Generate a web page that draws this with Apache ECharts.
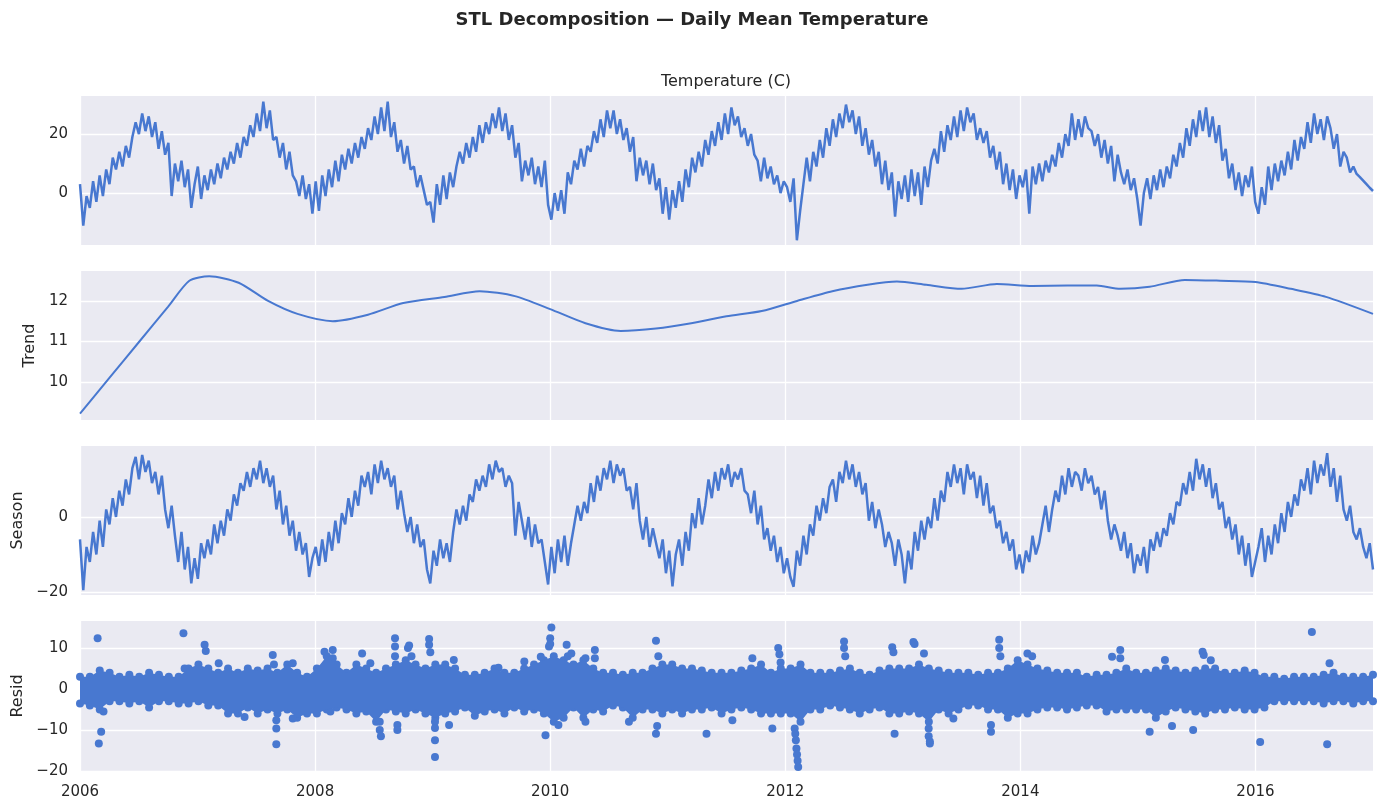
<!DOCTYPE html>
<html>
<head>
<meta charset="utf-8">
<script src="https://cdn.jsdelivr.net/npm/echarts@6/dist/echarts.min.js"></script>
<style>
  html, body { margin: 0; padding: 0; background: #fff; }
  #chart { width: 1384px; height: 810px; }
</style>
</head>
<body>
<div id="chart"></div>
<script>
// daily mean temperature, read roughly 3 samples per month (Jan..Dec)
const temp2006 = [3,-11,-1, -5,4,-3, 6,-1,8, 3,12,8, 14,9,16, 12,19,24, 20,27,21, 26,19,24, 15,21,13, 17,-1,10, 4,11,2, 8,-5,3];
const temp2007 = [9,-2,6, 1,8,3, 10,5,12, 8,14,10, 17,12,19, 16,23,19, 27,21,31, 22,28,18, 19,12,17, 8,14,6, 4,-1,6, -2,3,-7];
const temp2008 = [4,-6,6, -1,8,2, 11,4,13, 8,15,10, 17,12,19, 15,22,18, 26,20,29, 21,31,19, 24,14,18, 10,16,8, 9,2,6, 1,-4,-3];
const temp2009 = [-10,3,-4, 6,-2,7, 2,9,14, 10,17,12, 19,14,23, 17,24,20, 27,22,29, 21,27,18, 23,12,17, 4,11,6, 12,3,9, 2,11,-4];
const temp2010 = [-9,0,-6, 1,-7,7, 3,11,8, 15,9,16, 14,21,17, 25,19,28, 22,28,20, 25,18,22, 14,19,4, 12,6,11, 3,10,1, 5,-7,2];
const temp2011 = [-9,1,-5, 4,-3,8, 2,12,7, 14,9,18, 13,21,16, 24,18,27, 20,29,23, 26,19,22, 16,20,13, 11,4,12, 5,9,3, 6,0,4];
const temp2012 = [2,-3,5, -16,-6,3, 12,4,14, 9,18,12, 22,16,25, 19,27,22, 30,24,28, 20,26,16, 22,13,18, 9,14,3, 11,1,7, -8,4,-2];
const temp2013 = [6,-3,8, -1,7,-4, 9,2,11, 15,10,21, 14,23,18, 26,19,28, 21,29,24, 27,18,22, 17,21,12, 16,8,14, 3,10,1, 8,-2,6];
const temp2014 = [2,8,-7, 9,3,10, 4,11,7, 13,9,17, 12,20,16, 27,18,25, 19,26,22, 21,16,20, 12,18,10, 16,4,13, 7,3,8, 1,5,-2];
const temp2015 = [-11,0,5, -2,6,1, 8,2,9, 5,13,9, 17,12,22, 16,25,19, 28,21,29, 19,26,17, 23,11,15, 5,10,1, 7,-1,6, 2,9,-3];
const temp2016 = [-7,2,-4, 9,1,10, 4,11,6, 14,8,18, 11,19,15, 24,17,27, 20,25,18, 26,22,15, 20,9,14, 12,7,9, 6.5,5.4,4.2, 3.0,1.8,0.7];

// seasonal component, same sampling
const seas2006 = [-6,-19.5,-8, -12,-4,-10, -1,-8,2, -2,5,0, 7,3,10, 6,13,16, 10,16.5,12, 15,9,12, 6,11,2, -3,3,-5, -12,-4,-14, -8,-17.7,-11];
const seas2007 = [-16.5,-7,-11, -6,-10,-2, -7,-1,-5, 2,-1,6, 3,9,7, 12,8,13, 10,15,9, 13,8,11, 2,7,-2, 3,-5,-1, -9,-4,-10, -7,-16,-11];
const seas2008 = [-8,-13,-6, -12,-4,-9, -1,-7,1, -2,5,0, 7,3,11, 8,12,6, 14,9,15, 10,13,8, 11,2,7, 1,-4,0, -7,-2,-8, -6,-14,-17.7];
const seas2009 = [-9,-13,-6, -11,-7,-12, -4,2,-2, 3,-1,6, 4,10,7, 11,8,14, 10,15,12, 13,8,11, 9,-5,4, -1,-6,0, -8,-2,-7, -6,-12,-18];
const seas2010 = [-8,-15,-6, -12,-5,-13, -7,-2,3, -1,4,1, 9,4,11, 7,13,10, 15,9,14, 11,13,7, 8,2,9, -1,-6,0, -8,-3,-7, -11,-6,-15];
const seas2011 = [-9,-18.5,-10, -6,-13,-4, -9,1,-3, 5,-2,3, 10,5,12, 7,13,10, 14,8,12, 10,13,7, 6,1,7, -2,3,-6, -3,-9,-5, -12,-8,-15];
const seas2012 = [-11,-16,-18.6, -9,-13,-5, -10,-2,-5, 3,-1,5, 1,8,10, 4,12,9, 15,10,14, 8,12,6, 9,-1,4, -3,2,-2, -8,-4,-7, -13,-6,-10];
const seas2013 = [-17.7,-9,-14, -4,-9,-1, -6,0,-3, 5,-1,7, 4,12,8, 14,9,13, 6,14,10, 12,5,11, 3,9,1, 3,-3,-1, -7,-4,-9, -6,-14,-10];
const seas2014 = [-15,-9,-12, -5,-10,-7, -2,3,-4, 2,7,4, 11,6,13, 8,12,11, 7,13,9, 11,6,8, 2,7,-1, -6,-2,-5, -9,-4,-11, -7,-15,-10];
const seas2015 = [-13,-8,-15, -6,-9,-4, -8,-3,-5, 1,-2,4, 3,9,6, 12,7,15.5, 10,14,8, 13,5,9, 2,4,-3, 0,-6,-2, -10,-5,-13, -7,-16,-12];
const seas2016 = [-8,-3,-12, -5,-10,-2, -7,1,-4, 4,0,6, 3,10,7, 13,6,15, 9,14,11, 17,8,13, 4,11,2, -1,3,-4, -6,-3,-8, -11,-7,-14];

// trend component (smooth)
const trendT = [2006.0, 2006.25, 2006.5, 2006.75, 2006.93, 2007.1, 2007.35, 2007.6, 2007.85, 2008.15, 2008.45, 2008.75, 2009.1, 2009.4, 2009.7,
  2010.0, 2010.3, 2010.6, 2010.9, 2011.2, 2011.5, 2011.8, 2012.1, 2012.4, 2012.7, 2012.95, 2013.2, 2013.5, 2013.8,
  2014.1, 2014.4, 2014.65, 2014.85, 2015.1, 2015.4, 2015.7, 2016.0, 2016.3, 2016.6, 2017.0];
const trendV = [9.22, 10.1, 10.98, 11.86, 12.5, 12.61, 12.45, 12.0, 11.68, 11.5, 11.66, 11.95, 12.1, 12.24, 12.12,
  11.8, 11.45, 11.26, 11.32, 11.45, 11.62, 11.75, 12.0, 12.24, 12.4, 12.48, 12.4, 12.3, 12.42,
  12.37, 12.38, 12.38, 12.3, 12.35, 12.52, 12.5, 12.47, 12.3, 12.1, 11.68];

// residuals: monthly upper / lower edge of the dense band
const residHi = [3,3,4.5,4,3,3.5,3,4,3.5,3,3,5,
  6,5,4,5,4,5,4.5,5,4,6,4,3,
  5,8,6,4,6,5,4,5,6,7,6,5,
  6,6,5,3.5,3.5,4,5,4,4,5,6,7,
  8,7,6,7,5,4,4,3.5,4,4,5,6,
  6,5,5,4.5,4,4,4,4.5,5,6,4,5,
  5,6,4,4,4,4.5,5,4,3.5,4.5,5,5,
  5,6,5,4.5,4,4,4,3.5,4,4,5,7,
  6,5,4.5,4,4,4,3,3.5,3.5,4,5,4,
  4,4.5,5,4.5,4,4.5,5,5,4,4,4.5,4,
  3,3,2.5,3,3,3,3.5,4,3,3,3,3.5];
const residLo = [-3.5,-4,-5,-3,-3,-3.5,-3,-4.5,-3,-3,-3.5,-3.5,
  -3,-4,-4,-6,-6,-4.5,-6,-5,-6,-5,-7,-6,
  -6,-5,-4.5,-5,-6,-5.5,-8,-5,-5.5,-6,-5,-6,
  -7,-6,-5.5,-4.5,-6.5,-5.5,-5,-6,-4.5,-5.5,-5,-6,
  -8,-7,-4.5,-7,-5,-5.5,-4,-4.5,-7,-5,-5,-6,
  -5,-6,-5,-5,-4.5,-6,-5,-4.5,-5,-6,-6,-6,
  -6,-8,-5,-5,-4,-4.5,-5,-6,-5,-4.5,-6,-6,
  -5.5,-6,-8,-5,-6,-5,-4,-4,-5,-5,-7,-6,
  -6,-5,-4.5,-4.5,-5,-4.5,-4,-4,-5.5,-5,-5,-5,
  -5,-7,-5.5,-4.5,-5,-5.5,-6,-5,-5,-4.5,-5,-5,
  -4.5,-3,-3,-3,-3,-3,-3.5,-3,-3,-3.5,-3,-3];

// residual outliers (date as decimal year, value)
const outT = [2006.15, 2006.16, 2006.18, 2006.2, 2006.88, 2006.89, 2007.06, 2007.07, 2007.18, 2007.4, 2007.64, 2007.65, 2007.67, 2007.67, 2007.67,
  2007.81, 2007.81, 2008.08, 2008.13, 2008.15, 2008.15, 2008.4, 2008.47, 2008.55, 2008.55, 2008.56, 2008.68, 2008.68, 2008.68, 2008.7, 2008.7,
  2008.79, 2008.8, 2008.82, 2008.97, 2008.97, 2008.98, 2009.02, 2009.02, 2009.02, 2009.02, 2009.14, 2009.18, 2009.56, 2009.78, 2009.92, 2009.96,
  2009.99, 2010.0, 2010.0, 2010.01, 2010.07, 2010.14, 2010.15, 2010.18, 2010.3, 2010.3, 2010.38, 2010.38, 2010.67, 2010.9, 2010.92, 2010.9, 2010.91,
  2011.33, 2011.55, 2011.72, 2011.89, 2011.94, 2011.95, 2011.96, 2012.08, 2012.085, 2012.09, 2012.095, 2012.1, 2012.105, 2012.11,
  2012.5, 2012.5, 2012.51, 2012.91, 2012.92, 2012.93, 2013.09, 2013.1, 2013.18, 2013.22, 2013.22, 2013.23, 2013.23, 2013.43, 2013.75, 2013.75,
  2013.82, 2013.82, 2013.83, 2014.06, 2014.1, 2014.78, 2014.85, 2014.85, 2015.1, 2015.23, 2015.29, 2015.47, 2015.55, 2015.56, 2015.62,
  2016.04, 2016.48, 2016.61, 2016.63];
const outV = [12.4, -13.3, -10.4, -5.5, 13.6, 5, 10.8, 9.3, 6.3, -6.8, 8.3, 6, -7.6, -9.6, -13.5,
  -7.2, 6.3, 9.1, -5.5, 9.5, 7.5, 8.7, 6.3, -8, -10, -11.5, 12.4, 10.4, 8, -8.8, -10,
  10, 10.6, 8, 12.2, 10.8, 9, -8, -9.5, -12.5, -16.6, -8.8, 7.1, 5.2, 6.7, 7.9, -11.3,
  10.4, 12.4, 11, 15, -8.8, 10.8, 8, 8.7, 7.5, -8, 9.5, 7.5, -8, 11.8, 8, -10.9, -9,
  -10.9, -7.6, 7.5, -9.6, 10, 8.5, 6.5, -9.6, -10.9, -12.5, -14.5, -16, -17.5, -19,
  11.6, 10, 8, 10.2, 9, -10.9, 11.5, 11, 8.7, -9.6, -11.5, -12.8, -13.3, -7.2, -8.8, -10.4,
  12, 10, 8, 8.7, 8, 7.9, 9.5, 7.5, -10.4, 7.1, -9, -10, 9.1, 8.3, 7,
  -12.9, 13.9, -13.5, 6.3];

const xTicks = [2006, 2008, 2010, 2012, 2014, 2016];
const tempTicks = [0, 20];
const trendTicks = [10, 11, 12];
const seasTicks = [-20, 0];
const residTicks = [-20, -10, 0, 10];

const BLUE = '#4878d0';
const INK = '#262626';
const FONT = 'DejaVu Sans';

const tempVals = [].concat(temp2006, temp2007, temp2008, temp2009, temp2010, temp2011, temp2012, temp2013, temp2014, temp2015, temp2016);
const seasVals = [].concat(seas2006, seas2007, seas2008, seas2009, seas2010, seas2011, seas2012, seas2013, seas2014, seas2015, seas2016);
const sampleT = (i, n) => 2006 + (i * 11) / (n - 1);
const tempData = tempVals.map((v, i) => [sampleT(i, tempVals.length), v]);
const seasData = seasVals.map((v, i) => [sampleT(i, seasVals.length), v]);
const trendData = trendT.map((t, i) => [t, trendV[i]]);
const monthT = residHi.map((_, i) => sampleT(i, residHi.length));
const bandHi = residHi.map((v, i) => [monthT[i], v]);
const bandLo = residLo.map((v, i) => [monthT[i], v]);
const edgeDots = bandHi.concat(bandLo);
const outDots = outT.map((t, i) => [t, outV[i]]);

const minus = (v) => (v < 0 ? '\u2212' + Math.abs(v) : String(v));

const chart = echarts.init(document.getElementById('chart'), null, { renderer: 'canvas' });

const panels = [
  { top: 96, height: 149, min: -17.6, max: 32.9, ticks: tempTicks, name: '', gap: 0 },
  { top: 271, height: 149, min: 9.06, max: 12.74, ticks: trendTicks, name: 'Trend', gap: 40 },
  { top: 446, height: 149, min: -20.8, max: 18.9, ticks: seasTicks, name: 'Season', gap: 51 },
  { top: 621, height: 150, min: -20, max: 16.6, ticks: residTicks, name: 'Resid', gap: 51 }
];

// band series: area from 0 up to the upper edge and from 0 down to the lower edge
const bandSeries = (data) => ({
  type: 'line', xAxisIndex: 3, yAxisIndex: 3, data: data,
  showSymbol: false, lineStyle: { opacity: 0 }, itemStyle: { color: BLUE },
  areaStyle: { color: BLUE, opacity: 1, origin: 0 }
});

const option = {
  animation: false,
  backgroundColor: '#ffffff',
  textStyle: { fontFamily: FONT },
  title: [
    {
      text: 'STL Decomposition \u2014 Daily Mean Temperature',
      left: 'center',
      top: 11,
      padding: 0,
      textStyle: { fontFamily: FONT, fontSize: 18, fontWeight: 'bold', color: INK }
    },
    {
      text: 'Temperature (C)',
      left: 726,
      textAlign: 'center',
      top: 74,
      padding: 0,
      textStyle: { fontFamily: FONT, fontSize: 16, fontWeight: 'normal', color: INK }
    }
  ],
  grid: panels.map((p) => ({
    left: 80, right: 11, top: p.top, height: p.height,
    show: true, backgroundColor: '#eaeaf2', borderWidth: 0
  })),
  xAxis: panels.map((p, i) => ({
    type: 'value',
    gridIndex: i,
    min: 2006,
    max: 2017,
    axisLine: { show: false },
    axisTick: { show: false, customValues: xTicks },
    axisLabel: {
      show: i === 3,
      customValues: xTicks,
      formatter: (v) => String(v),
      color: INK, fontSize: 15, fontFamily: FONT, margin: 14
    },
    splitLine: { show: true, lineStyle: { color: '#ffffff', width: 1.3 } }
  })),
  yAxis: panels.map((p, i) => ({
    type: 'value',
    gridIndex: i,
    min: p.min,
    max: p.max,
    name: p.name,
    nameLocation: 'middle',
    nameRotate: 90,
    nameGap: p.gap,
    nameTextStyle: { fontFamily: FONT, fontSize: 16, color: INK },
    axisLine: { show: false },
    axisTick: { show: false, customValues: p.ticks },
    axisLabel: {
      customValues: p.ticks,
      formatter: minus,
      color: INK, fontSize: 15, fontFamily: FONT, margin: 12
    },
    splitLine: { show: true, lineStyle: { color: '#ffffff', width: 1.3 } }
  })),
  series: [
    {
      type: 'line', xAxisIndex: 0, yAxisIndex: 0, data: tempData,
      showSymbol: false, lineStyle: { color: BLUE, width: 2.5 }, itemStyle: { color: BLUE }
    },
    {
      type: 'line', xAxisIndex: 1, yAxisIndex: 1, data: trendData, smooth: 0.25,
      showSymbol: false, lineStyle: { color: BLUE, width: 2 }, itemStyle: { color: BLUE }
    },
    {
      type: 'line', xAxisIndex: 2, yAxisIndex: 2, data: seasData,
      showSymbol: false, lineStyle: { color: BLUE, width: 2.5 }, itemStyle: { color: BLUE }
    },
    bandSeries(bandHi),
    bandSeries(bandLo),
    {
      type: 'scatter', xAxisIndex: 3, yAxisIndex: 3, data: edgeDots,
      symbolSize: 8, itemStyle: { color: BLUE, opacity: 1 }
    },
    {
      type: 'scatter', xAxisIndex: 3, yAxisIndex: 3, data: outDots,
      symbolSize: 8, itemStyle: { color: BLUE, opacity: 1 }
    }
  ]
};

chart.setOption(option);
</script>
</body>
</html>
